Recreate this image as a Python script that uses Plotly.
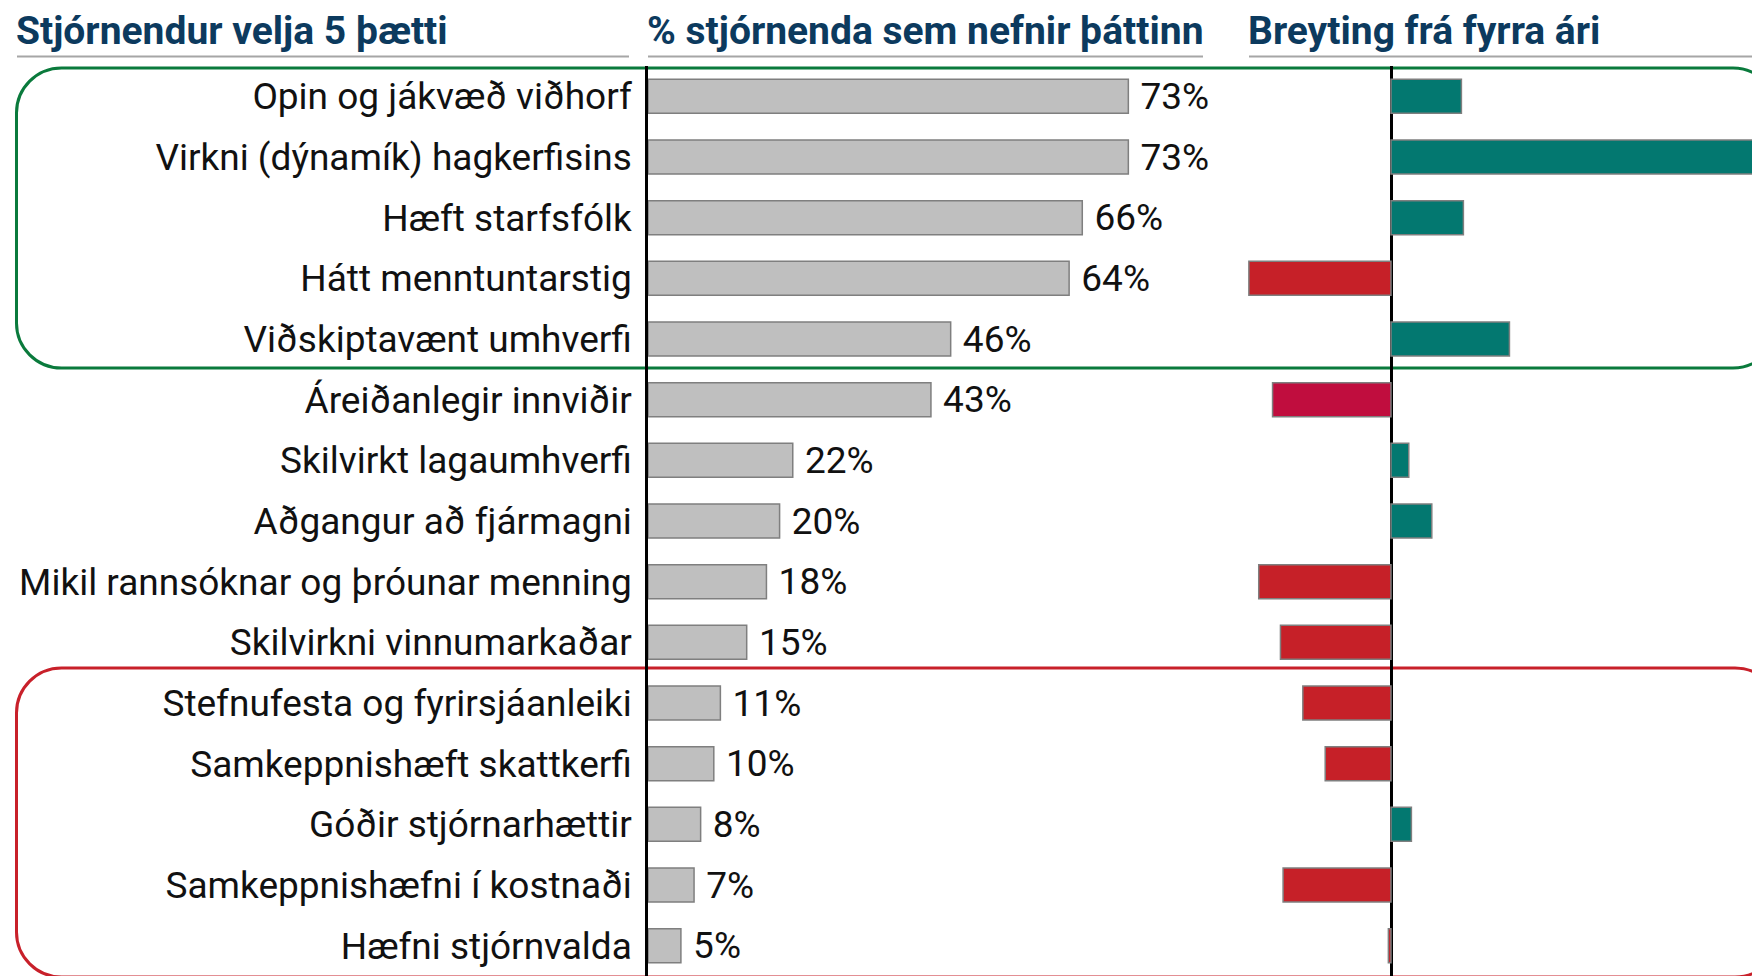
import plotly.graph_objects as go

# ---------------- data ----------------
categories = [
    "Opin og jákvæð viðhorf",
    "Virkni (dýnamík) hagkerfisins",
    "Hæft starfsfólk",
    "Hátt menntuntarstig",
    "Viðskiptavænt umhverfi",
    "Áreiðanlegir innviðir",
    "Skilvirkt lagaumhverfi",
    "Aðgangur að fjármagni",
    "Mikil rannsóknar og þróunar menning",
    "Skilvirkni vinnumarkaðar",
    "Stefnufesta og fyrirsjáanleiki",
    "Samkeppnishæft skattkerfi",
    "Góðir stjórnarhættir",
    "Samkeppnishæfni í kostnaði",
    "Hæfni stjórnvalda",
]
share_pct = [73, 73, 66, 64, 46, 43, 22, 20, 18, 15, 11, 10, 8, 7, 5]
change_pp = [10.7, 60.0, 11.0, -21.6, 18.0, -18.0, 2.7, 6.2, -20.1, -16.8,
             -13.4, -10.0, 3.1, -16.4, -0.4]
panel_titles = ["Stjórnendur velja 5 þætti",
                "% stjórnenda sem nefnir þáttinn",
                "Breyting frá fyrra ári"]

# ---------------- styling ----------------
OX, OY = 8, 8            # page offset of the figure (body margin)
W, H = 1752, 968
T, B = 58, 0
PH = H - T - B
FONT = "Roboto, sans-serif"
LABEL_SIZE = 37
TITLE_SIZE = 39
NAVY = "#0C3A5E"
TEAL = "#037870"
RED = "#C62028"
HIGHLIGHT = {"Áreiðanlegir innviðir": "#C00D3E"}
GREEN_BOX = "#0A7A3C"
RED_BOX = "#C8202A"

def px(x):
    return (x - OX) / W

def py(y):
    return (H - B - (y - OY)) / PH

change_colors = [HIGHLIGHT.get(c, TEAL if v >= 0 else RED)
                 for c, v in zip(categories, change_pp)]

fig = go.Figure()
fig.add_trace(go.Bar(
    y=categories, x=share_pct, orientation="h",
    marker=dict(color="#BFBFBF", line=dict(color="#7F7F7F", width=1.5)),
    texttemplate="\u00a0%{x}%", textposition="outside", constraintext="none",
    textfont=dict(family=FONT, size=LABEL_SIZE, color="#111111"),
    cliponaxis=False, xaxis="x", yaxis="y", hoverinfo="skip",
))
fig.add_trace(go.Bar(
    y=categories, x=change_pp, orientation="h",
    marker=dict(color=change_colors, line=dict(color="#7F7F7F", width=1.5)),
    xaxis="x2", yaxis="y", hoverinfo="skip",
))

def rounded_rect(x0, y0, x1, y1, r):
    k = 0.5523 * r
    pts = [
        ("M", [(x0 + r, y0)]),
        ("L", [(x1 - r, y0)]),
        ("C", [(x1 - r + k, y0), (x1, y0 + r - k), (x1, y0 + r)]),
        ("L", [(x1, y1 - r)]),
        ("C", [(x1, y1 - r + k), (x1 - r + k, y1), (x1 - r, y1)]),
        ("L", [(x0 + r, y1)]),
        ("C", [(x0 + r - k, y1), (x0, y1 - r + k), (x0, y1 - r)]),
        ("L", [(x0, y0 + r)]),
        ("C", [(x0, y0 + r - k), (x0 + r - k, y0), (x0 + r, y0)]),
    ]
    s = ""
    for cmd, ps in pts:
        s += cmd + " " + " ".join(f"{px(a):.5f},{py(b):.5f}" for a, b in ps) + " "
    return s + "Z"

shapes = [
    dict(type="path", xref="paper", yref="paper",
         path=rounded_rect(16.5, 68, 1778, 368, 45),
         line=dict(color=GREEN_BOX, width=3), layer="below"),
    dict(type="path", xref="paper", yref="paper",
         path=rounded_rect(16.5, 668, 1780, 977, 45),
         line=dict(color=RED_BOX, width=3), layer="below"),
]
for x0, x1 in [(17, 629), (648, 1203), (1249, 1770)]:
    shapes.append(dict(type="line", xref="paper", yref="paper",
                       x0=px(x0), x1=px(x1), y0=py(56.5), y1=py(56.5),
                       line=dict(color="#A6A6A6", width=2)))

annotations = []
for t, x0 in zip(panel_titles, [14, 645, 1246]):
    annotations.append(dict(text=f"<b>{t}</b>", xref="paper", yref="paper",
                            x=px(x0), y=py(31), xanchor="left", yanchor="middle",
                            showarrow=False,
                            font=dict(family=FONT, size=TITLE_SIZE, color=NAVY)))

fig.update_layout(
    width=W, height=H,
    margin=dict(l=0, r=0, t=T, b=B),
    paper_bgcolor="white", plot_bgcolor="white",
    showlegend=False, bargap=0.44,
    font=dict(family=FONT, size=LABEL_SIZE, color="#111111"),
    shapes=shapes, annotations=annotations,
    xaxis=dict(domain=[px(648), px(1203)], range=[0, (1203 - 648) / 6.58],
               visible=False, fixedrange=True),
    xaxis2=dict(domain=[px(1248), 1.0],
                range=[-(1391 - 1248) / 6.58, (1760 - 1391) / 6.58],
                showgrid=False, showticklabels=False, ticks="",
                zeroline=True, zerolinecolor="black", zerolinewidth=2.5,
                anchor="y", fixedrange=True),
    yaxis=dict(range=[14.5, -0.5], type="category", anchor="x",
               showline=True, linecolor="black", linewidth=2.5,
               showgrid=False, ticks="", ticklabelstandoff=6,
               tickfont=dict(family=FONT, size=LABEL_SIZE, color="#111111"),
               fixedrange=True),
)

fig.write_html("out.html")
